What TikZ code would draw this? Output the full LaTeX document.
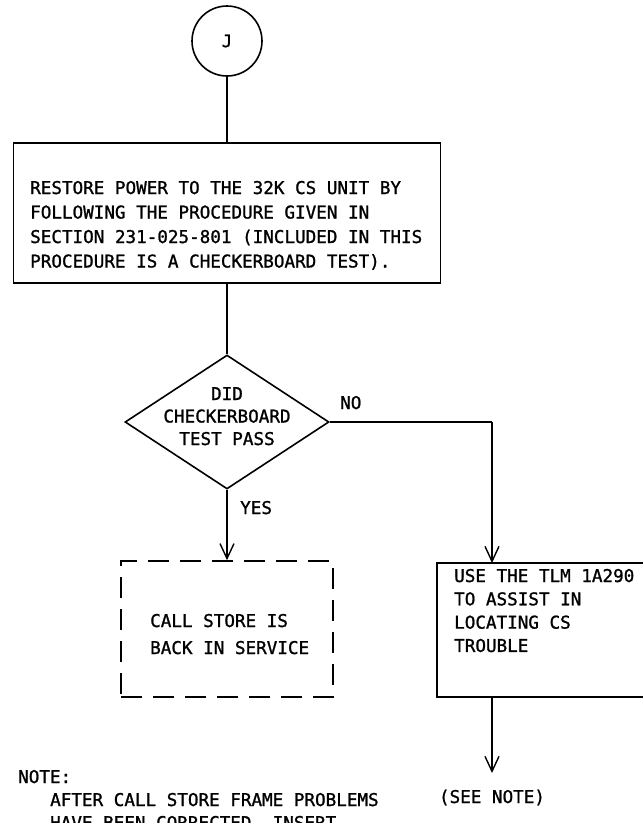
\documentclass[tikz,border=0pt]{standalone}
\usepackage{fontspec}
\newfontfamily\lettering{DejaVu Sans Mono}[FakeBold=1.2]
\usetikzlibrary{shapes.geometric,arrows.meta}
\begin{document}
\begin{tikzpicture}[x=1pt,y=-1pt,
  flow/.style={line width=1.6pt},
  arrowline/.style={flow,-{Straight Barb[length=15pt,width=14pt,line width=1.4pt]}},
  txt/.style={font=\lettering\fontsize{17.6}{24}\selectfont,inner sep=0pt,anchor=base west},
  ctxt/.style={txt,anchor=base},
  stepbox/.style={draw,line width=1.6pt,rectangle,inner sep=0pt},
]
\path[use as bounding box,clip] (0,0) rectangle (643,823);

% start connector
\node[circle,draw,line width=1.6pt,minimum size=70pt,inner sep=0pt,
      font=\lettering\fontsize{17}{20}\selectfont] (J) at (227,41) {J};

% restore power step
\node[stepbox,minimum width=427pt,minimum height=140pt] (restore) at (227,213) {};
\foreach \line [count=\i] in {{RESTORE POWER TO THE 32K CS UNIT BY},
    {FOLLOWING THE PROCEDURE GIVEN IN},
    {SECTION 231-025-801 (INCLUDED IN THIS},
    {PROCEDURE IS A CHECKERBOARD TEST).}}
  \node[txt] (restore-\i) at (30,{194+24.5*(\i-1)}) {\line};

% decision
\node[diamond,draw,line width=1.6pt,minimum width=204pt,minimum height=134pt,inner sep=0pt]
  (check) at (227,422) {};
\node[ctxt] (check-1) at (227,400) {DID};
\node[ctxt] (check-2) at (227,422.5) {CHECKERBOARD};
\node[ctxt] (check-3) at (227,445) {TEST PASS};

% back in service (dashed)
\node[stepbox,dash pattern=on 21pt off 11pt,minimum width=212pt,minimum height=136pt]
  (service) at (227,629) {};
\node[txt] (service-1) at (150,627) {CALL STORE IS};
\node[txt] (service-2) at (150,654) {BACK IN SERVICE};

% TLM step, running past the right edge
\coordinate (tlmNW) at (437,563);
\coordinate (tlmSE) at (680,697);
\draw[flow] (tlmNW) rectangle (tlmSE);
\coordinate (tlmTop) at (492,563);
\coordinate (tlmBot) at (492,697);
\foreach \line [count=\i] in {{USE THE TLM 1A290},{TO ASSIST IN},{LOCATING CS},{TROUBLE}}
  \node[txt] (tlm-\i) at (454,{582+23.3*(\i-1)}) {\line};

% note reference
\node[ctxt] (seenote) at (492,803) {(SEE NOTE)};
\coordinate (seeTip) at (492,773);

% connectors
\draw[flow] (J.south) -- (restore.north);
\draw[flow] (restore.south) -- (check.north);
\draw[arrowline] (check.south) -- (service.north);
\draw[flow] (check.east) -- (492,422) coordinate (turn);
\draw[arrowline] (turn) -- (tlmTop);
\draw[arrowline] (tlmBot) -- (seeTip);

% branch labels
\node[txt] (no) at (340,409) {NO};
\node[txt] (yes) at (240,514) {YES};

% note
\node[txt] (note-0) at (18,783) {NOTE:};
\node[txt] (note-1) at (50,806) {AFTER CALL STORE FRAME PROBLEMS};
\node[txt] (note-2) at (50,829) {HAVE BEEN CORRECTED, INSERT};
\end{tikzpicture}
\end{document}
